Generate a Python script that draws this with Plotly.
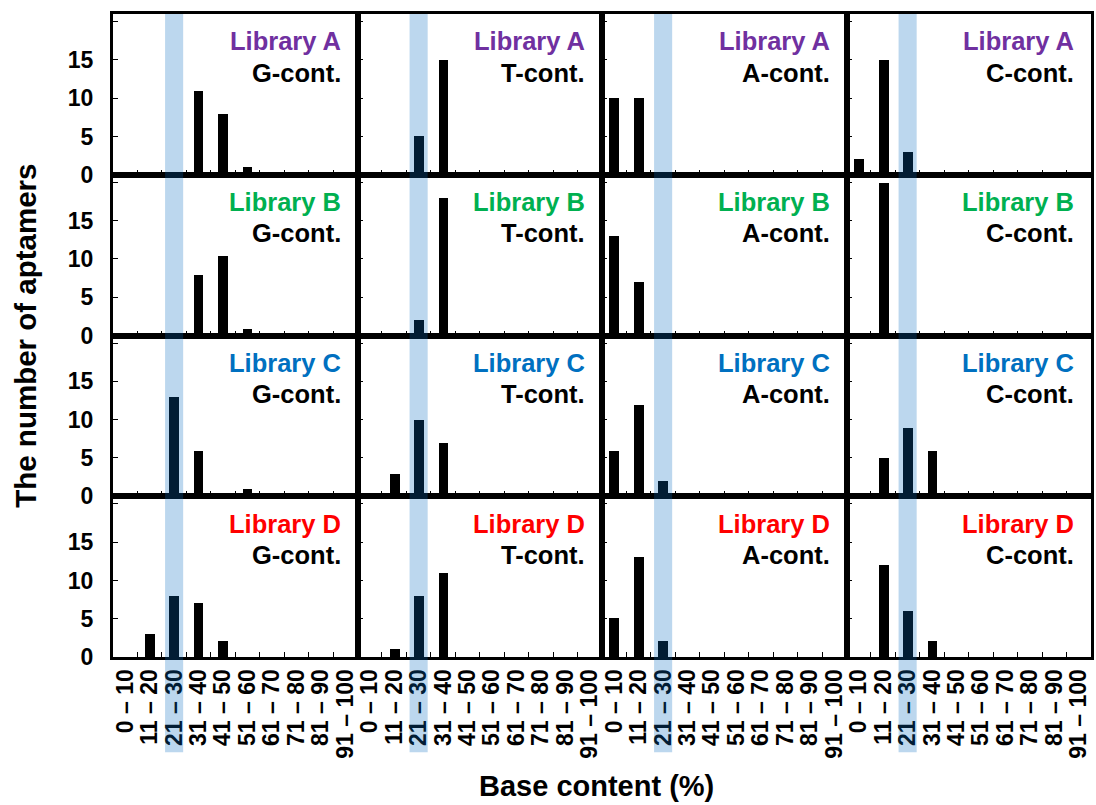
import plotly.graph_objects as go
from plotly.subplots import make_subplots

# Base-content bins shared by every panel
bins = ["0 – 10", "11 – 20", "21 – 30", "31 – 40", "41 – 50",
        "51 – 60", "61 – 70", "71 – 80", "81 – 90", "91 – 100"]

libraries = ["Library A", "Library B", "Library C", "Library D"]
library_colors = ["#7030A0", "#00B050", "#0070C0", "#FF0000"]
bases = ["G-cont.", "T-cont.", "A-cont.", "C-cont."]

# Number of aptamers per bin (rows: libraries, columns: G, T, A, C)
lib_a_g = [0, 0, 0, 11, 8, 1, 0, 0, 0, 0]
lib_a_t = [0, 0, 5, 15, 0, 0, 0, 0, 0, 0]
lib_a_a = [10, 10, 0, 0, 0, 0, 0, 0, 0, 0]
lib_a_c = [2, 15, 3, 0, 0, 0, 0, 0, 0, 0]

lib_b_g = [0, 0, 0, 8, 10.4, 0.9, 0, 0, 0, 0]
lib_b_t = [0, 0, 2, 18, 0, 0, 0, 0, 0, 0]
lib_b_a = [13, 7, 0, 0, 0, 0, 0, 0, 0, 0]
lib_b_c = [0, 20, 0, 0, 0, 0, 0, 0, 0, 0]

lib_c_g = [0, 0, 13, 6, 0, 1, 0, 0, 0, 0]
lib_c_t = [0, 3, 10, 7, 0, 0, 0, 0, 0, 0]
lib_c_a = [6, 12, 2, 0, 0, 0, 0, 0, 0, 0]
lib_c_c = [0, 5, 9, 6, 0, 0, 0, 0, 0, 0]

lib_d_g = [0, 3, 8, 7, 2, 0, 0, 0, 0, 0]
lib_d_t = [0, 1, 8, 11, 0, 0, 0, 0, 0, 0]
lib_d_a = [5, 13, 2, 0, 0, 0, 0, 0, 0, 0]
lib_d_c = [0, 12, 6, 2, 0, 0, 0, 0, 0, 0]

counts = [
    [lib_a_g, lib_a_t, lib_a_a, lib_a_c],
    [lib_b_g, lib_b_t, lib_b_a, lib_b_c],
    [lib_c_g, lib_c_t, lib_c_a, lib_c_c],
    [lib_d_g, lib_d_t, lib_d_a, lib_d_c],
]

y_tickvals = [0, 5, 10, 15, 20]
y_ticktext = ["0", "5", "10", "15", ""]
highlight_bin = 2  # 21 – 30

FONT = "Liberation Sans, Arial, sans-serif"

fig = make_subplots(rows=4, cols=4, horizontal_spacing=0, vertical_spacing=0)

for r in range(4):
    for c in range(4):
        idx = r * 4 + c + 1
        fig.add_trace(
            go.Bar(x=bins, y=counts[r][c], marker_color="black",
                   marker_line_width=0, width=0.4, showlegend=False),
            row=r + 1, col=c + 1,
        )
        fig.update_xaxes(
            type="category", categoryorder="array", categoryarray=bins,
            range=[-0.5, 9.5], showline=True, linecolor="black", linewidth=3,
            mirror=True, ticks="inside", tickson="boundaries", ticklen=5,
            tickwidth=1.2, tickcolor="black", showgrid=False,
            tickmode="linear", tick0=0, dtick=1,
            showticklabels=(r == 3), tickangle=-90,
            tickfont=dict(family=FONT, size=23, color="black", weight="bold"),
            row=r + 1, col=c + 1,
        )
        fig.update_yaxes(
            range=[0, 21], showline=True, linecolor="black", linewidth=3,
            mirror=True, ticks="inside", ticklen=5, tickwidth=1.2,
            tickcolor="black", showgrid=False, zeroline=False,
            tickvals=y_tickvals, ticktext=y_ticktext,
            showticklabels=(c == 0), ticklabelstandoff=12,
            tickfont=dict(family=FONT, size=23, color="black", weight="bold"),
            row=r + 1, col=c + 1,
        )
        sfx = "" if idx == 1 else str(idx)
        fig.add_annotation(
            text=libraries[r], xref=f"x{sfx} domain", yref=f"y{sfx} domain",
            x=0.94, y=0.83, xanchor="right", yanchor="middle", showarrow=False,
            font=dict(family=FONT, size=25.5, color=library_colors[r], weight="bold"),
        )
        fig.add_annotation(
            text=bases[c], xref=f"x{sfx} domain", yref=f"y{sfx} domain",
            x=0.94, y=0.635, xanchor="right", yanchor="middle", showarrow=False,
            font=dict(family=FONT, size=25.5, color="black", weight="bold"),
        )

# Translucent band marking the 21 – 30 bin in each column
for c in range(4):
    idx = 12 + c + 1
    fig.add_shape(
        type="rect", xref=f"x{idx}", yref="paper",
        x0=highlight_bin - 0.37, x1=highlight_bin + 0.37, y0=-0.148, y1=1.0,
        fillcolor="rgba(7,108,191,0.27)", line_width=0, layer="above",
    )

fig.add_annotation(
    text="The number of aptamers", xref="paper", yref="paper",
    x=-0.0897, y=0.5, xanchor="center", yanchor="middle", textangle=-90,
    showarrow=False, font=dict(family=FONT, size=29.5, color="black", weight="bold"),
)
fig.add_annotation(
    text="Base content (%)", xref="paper", yref="paper",
    x=0.494, y=-0.201, xanchor="center", yanchor="middle",
    showarrow=False, font=dict(family=FONT, size=29, color="black", weight="bold"),
)

fig.update_layout(
    width=1096, height=805,
    margin=dict(l=113, r=2, t=14, b=148),
    plot_bgcolor="white", paper_bgcolor="white",
    bargap=0, font=dict(family=FONT),
)

fig.write_html("out.html")
